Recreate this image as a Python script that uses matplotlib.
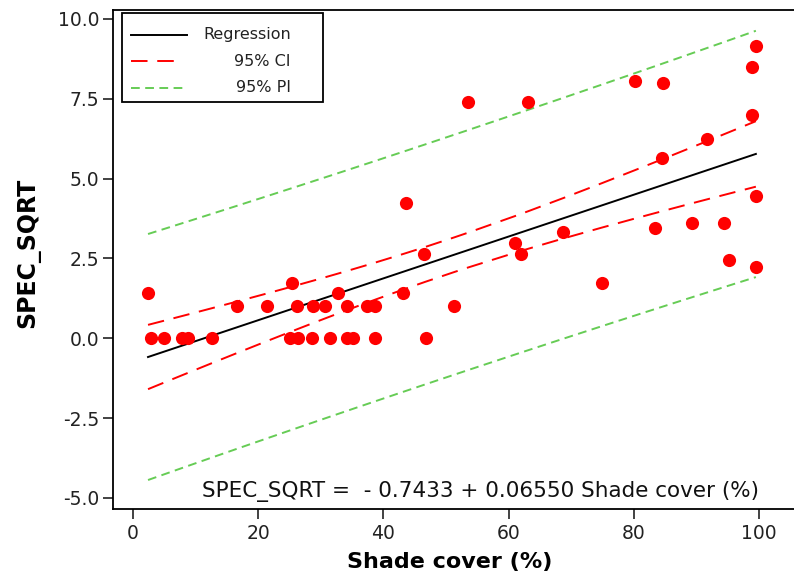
import numpy as np
import matplotlib
matplotlib.use("Agg")
import matplotlib.pyplot as plt
from matplotlib.patches import Rectangle
from matplotlib.lines import Line2D

# données : couverture d'ombre (%) et racine carrée du nombre d'espèces
shade = np.array([2.8, 4.9, 7.8, 8.8, 12.6, 25.1, 26.4, 28.6, 31.5, 34.2, 35.1, 38.7, 46.8,
                  16.6, 21.4, 26.2, 28.8, 30.7, 34.2, 37.4, 38.7, 51.3,
                  2.4, 32.7, 43.1,
                  25.4, 74.9,
                  99.5, 95.2, 46.5, 62.0, 61.0, 68.7, 83.4, 89.3, 94.4, 43.6, 99.5,
                  84.5, 91.7, 98.9, 53.5, 63.1, 84.7, 80.2, 98.9, 99.5])
spec_sqrt = np.array([0, 0, 0, 0, 0, 0, 0, 0, 0, 0, 0, 0, 0,
                      1, 1, 1, 1, 1, 1, 1, 1, 1,
                      1.414, 1.414, 1.414,
                      1.732, 1.732,
                      2.236, 2.449, 2.646, 2.646, 3.0, 3.317, 3.464, 3.606, 3.606, 4.243, 4.472,
                      5.657, 6.245, 7.0, 7.416, 7.416, 8.0, 8.062, 8.485, 9.165])

# coefficients de la régression
b0 = -0.7433
b1 = 0.06550
t_crit = 2.014  # t(0.975, n-2)

x_ticks = [0, 20, 40, 60, 80, 100]
y_ticks = [-5.0, -2.5, 0.0, 2.5, 5.0, 7.5, 10.0]

# intervalles de confiance et de prédiction
n = len(shade)
resid = spec_sqrt - (b0 + b1 * shade)
s = np.sqrt(np.sum(resid ** 2) / (n - 2))
xbar = shade.mean()
sxx = np.sum((shade - xbar) ** 2)
xs = np.unique(shade)
fit = b0 + b1 * xs
se_fit = s * np.sqrt(1 / n + (xs - xbar) ** 2 / sxx)
ci = t_crit * se_fit
pi = t_crit * np.sqrt(s ** 2 + se_fit ** 2)

W, H = 794, 579
fig = plt.figure(figsize=(W / 100, H / 100), dpi=100)
ax = fig.add_axes([113 / W, 70 / H, (798 - 113) / W, (509 - 10) / H])

def fp(x, y):
    # pixels -> coordonnées figure
    return x / W, 1 - y / H

red_dash = (0, (8.5, 5.0))
green_dash = (0, (4.5, 2.8))
green = '#66cc55'

ax.plot(xs, fit, color='black', lw=1.4, zorder=2)
ax.plot(xs, fit + ci, color='red', lw=1.4, ls=red_dash, zorder=2)
ax.plot(xs, fit - ci, color='red', lw=1.4, ls=red_dash, zorder=2)
ax.plot(xs, fit + pi, color=green, lw=1.4, ls=green_dash, zorder=2)
ax.plot(xs, fit - pi, color=green, lw=1.4, ls=green_dash, zorder=2)
ax.scatter(shade, spec_sqrt, s=90, color='red', linewidths=0, zorder=3)

ax.set_xlim((113 - 133) / 6.26, (798 - 133) / 6.26)
ax.set_ylim((338.3 - 509) / 31.93, (338.3 - 10) / 31.93)
ax.set_xticks(x_ticks)
ax.set_yticks(y_ticks)
ax.set_yticklabels([f"{v:.1f}" for v in y_ticks])
ax.tick_params(direction='out', length=7, width=1.2, labelsize=13.5, pad=3, colors='#222222')
ax.tick_params(axis='x', pad=4)
for side in ['left', 'bottom', 'top']:
    ax.spines[side].set_linewidth(1.3)
ax.spines['right'].set_visible(False)

# légende
x0, y0 = fp(122, 102)
x1, y1 = fp(323, 13)
fig.add_artist(Rectangle((x0, y0), x1 - x0, y1 - y0, transform=fig.transFigure,
                         fill=False, edgecolor='black', lw=1.3))
items = [('Regression', 'black', '-', 35, 187),
         ('95% CI', 'red', red_dash, 61, 179),
         ('95% PI', green, green_dash, 88, 186)]
for label, col, ls, yy, xe in items:
    (a, b), (c, d) = fp(131, yy), fp(xe, yy)
    fig.add_artist(Line2D([a, c], [b, d], transform=fig.transFigure, color=col, lw=1.4, ls=ls))
    tx, ty = fp(291, yy)
    fig.text(tx, ty, label, ha='right', va='center', fontsize=11.5, color='#222222')

ex, ey = fp(481, 492)
fig.text(ex, ey, 'SPEC_SQRT =  - 0.7433 + 0.06550 Shade cover (%)', ha='center', va='center',
         fontsize=15.5, color='#111111')

lx, ly = fp(450, 562)
fig.text(lx, ly, 'Shade cover (%)', ha='center', va='center', fontsize=16, fontweight='bold')
yx, yy = fp(28, 253)
fig.text(yx, yy, 'SPEC_SQRT', ha='center', va='center', rotation=90, fontsize=17, fontweight='bold')

fig.savefig('out.png', dpi=100)
